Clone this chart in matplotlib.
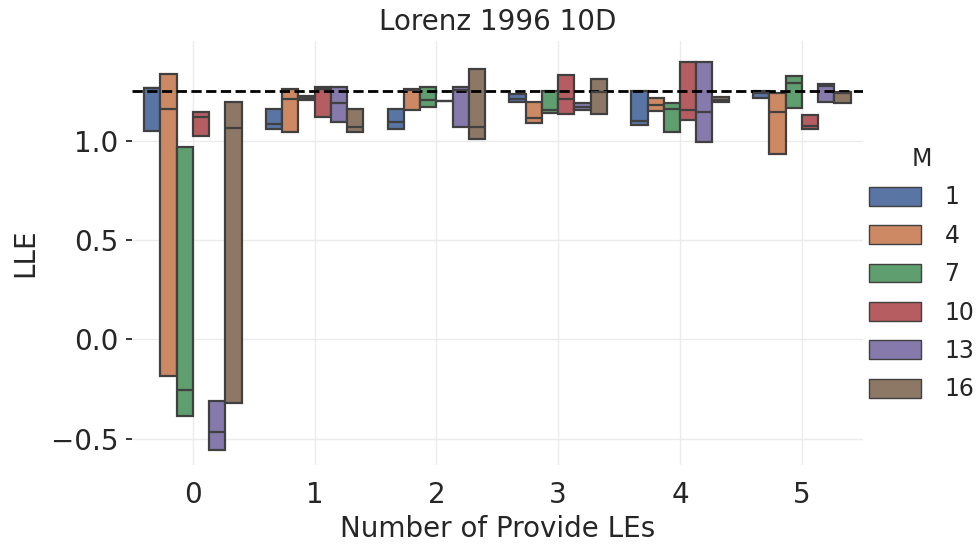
import matplotlib.pyplot as plt
import matplotlib.patches as mpatches
import seaborn as sns

sns.set_theme(style="whitegrid")
plt.rcParams['font.family'] = ['DejaVu Sans']

n_provided = [0, 1, 2, 3, 4, 5]
m_values = [1, 4, 7, 10, 13, 16]
reference_lle = 1.25

# quartiles of LLE, one row per M, one column per number of provided LEs
lle_q1 = [
    [1.047, 1.057, 1.057, 1.192, 1.078, 1.217],
    [-0.185, 1.042, 1.152, 1.088, 1.147, 0.933],
    [-0.386, 1.207, 1.168, 1.138, 1.042, 1.163],
    [1.021, 1.118, 1.197, 1.132, 1.102, 1.057],
    [-0.554, 1.092, 1.068, 1.155, 0.993, 1.193],
    [-0.320, 1.043, 1.010, 1.132, 1.193, 1.190],
]
lle_med = [
    [1.267, 1.082, 1.095, 1.208, 1.097, 1.238],
    [1.158, 1.212, 1.255, 1.113, 1.180, 1.142],
    [-0.252, 1.217, 1.207, 1.152, 1.160, 1.292],
    [1.118, 1.258, 1.197, 1.212, 1.152, 1.072],
    [-0.464, 1.188, 1.257, 1.167, 1.145, 1.275],
    [1.065, 1.068, 1.068, 1.247, 1.205, 1.238],
]
lle_q3 = [
    [1.267, 1.157, 1.157, 1.235, 1.248, 1.248],
    [1.335, 1.262, 1.260, 1.195, 1.215, 1.238],
    [0.970, 1.227, 1.272, 1.252, 1.190, 1.327],
    [1.143, 1.270, 1.197, 1.328, 1.394, 1.127],
    [-0.310, 1.270, 1.268, 1.190, 1.394, 1.287],
    [1.192, 1.157, 1.360, 1.310, 1.219, 1.245],
]

colors = [sns.desaturate(c, 0.75) for c in sns.color_palette("deep", len(m_values))]
line_col = "#404040"
text_col = "#262626"
fs = 20
leg_fs = 17

fig = plt.figure(figsize=(9.77, 5.5), dpi=100)
ax = fig.add_axes([0.135, 0.155, 0.748, 0.77])

width = 0.8 / len(m_values)
for k, m in enumerate(m_values):
    stats = []
    for j in range(len(n_provided)):
        stats.append(dict(q1=lle_q1[k][j], med=lle_med[k][j], q3=lle_q3[k][j],
                          whislo=lle_q1[k][j], whishi=lle_q3[k][j], fliers=[]))
    pos = [n - 0.4 + width * (k + 0.5) for n in n_provided]
    ax.bxp(stats, positions=pos, widths=width, patch_artist=True,
           showcaps=False, showfliers=False, manage_ticks=False,
           boxprops=dict(facecolor=colors[k], edgecolor=line_col, linewidth=1.6),
           medianprops=dict(color=line_col, linewidth=1.6),
           whiskerprops=dict(color=line_col, linewidth=1.6))

ax.axhline(reference_lle, color="black", linestyle="--", linewidth=2.0)

ax.set_xlim(-0.5, 5.5)
ax.set_ylim(-0.63, 1.5)
ax.set_xticks(n_provided)
ax.set_xticklabels([str(n) for n in n_provided])
ax.set_yticks([-0.5, 0.0, 0.5, 1.0])
ax.set_yticklabels(["\u22120.5", "0.0", "0.5", "1.0"])
ax.tick_params(axis="both", labelsize=fs, colors=text_col)
ax.tick_params(axis="y", left=True, length=4, width=1.3, color=text_col, pad=6)
ax.tick_params(axis="x", bottom=False, pad=6)
ax.grid(True, color="#ebebeb", linewidth=1.0)
ax.set_axisbelow(True)
for s in ax.spines.values():
    s.set_visible(False)

ax.set_title("Lorenz 1996 10D", fontsize=fs, color=text_col, pad=8)
ax.set_xlabel("Number of Provide LEs", fontsize=fs, color=text_col, labelpad=4)
ax.set_ylabel("LLE", fontsize=fs, color=text_col, labelpad=8)

handles = [mpatches.Patch(facecolor=c, edgecolor=line_col, linewidth=1.0, label=str(m))
           for c, m in zip(colors, m_values)]
leg = ax.legend(handles=handles, title="M", loc="center left", bbox_to_anchor=(0.9955, 0.45),
                borderaxespad=0, frameon=False, fontsize=leg_fs, title_fontsize=leg_fs,
                handlelength=2.2, handleheight=0.85, labelspacing=0.61, handletextpad=1.0)

fig.savefig("out.png", dpi=100)
